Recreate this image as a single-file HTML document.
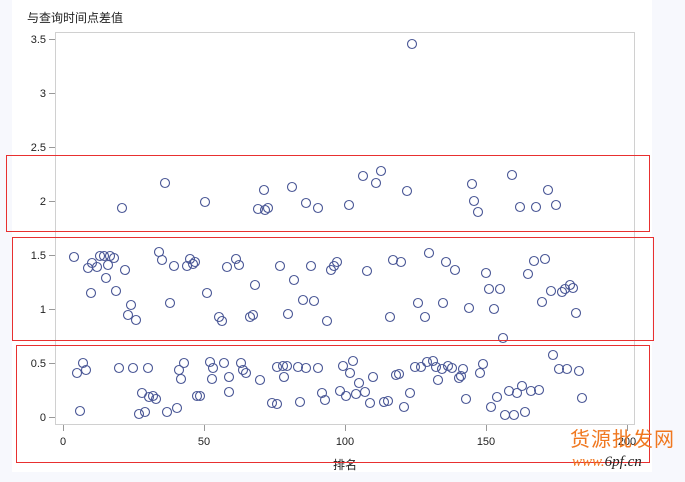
<!DOCTYPE html>
<html><head><meta charset="utf-8"><style>
html,body{margin:0;padding:0;background:#f7f8fd;}
svg{display:block;font-family:"Liberation Sans","Noto Sans CJK SC",sans-serif;}
</style></head><body>
<svg width="685" height="482" viewBox="0 0 685 482" xmlns="http://www.w3.org/2000/svg">
<rect x="12" y="0" width="640" height="472" fill="#fff"/>
<text x="27" y="22" font-size="12" fill="#222">与查询时间点差值</text>
<rect x="55.5" y="32.5" width="579" height="392" fill="none" stroke="#d0d0d0"/>
<g stroke="#999" stroke-width="1">
<line x1="49" y1="39.5" x2="55" y2="39.5"/><line x1="49" y1="93.5" x2="55" y2="93.5"/>
<line x1="49" y1="147.5" x2="55" y2="147.5"/><line x1="49" y1="201.5" x2="55" y2="201.5"/>
<line x1="49" y1="255.5" x2="55" y2="255.5"/><line x1="49" y1="309.5" x2="55" y2="309.5"/>
<line x1="49" y1="363.5" x2="55" y2="363.5"/><line x1="49" y1="417.5" x2="55" y2="417.5"/>
<line x1="63.5" y1="425" x2="63.5" y2="431"/><line x1="204.5" y1="425" x2="204.5" y2="431"/>
<line x1="345.5" y1="425" x2="345.5" y2="431"/><line x1="486.5" y1="425" x2="486.5" y2="431"/>
<line x1="627.5" y1="425" x2="627.5" y2="431"/>
</g>
<g font-size="11" fill="#222" text-anchor="end">
<text x="46" y="43">3.5</text><text x="46" y="97">3</text><text x="46" y="151">2.5</text>
<text x="46" y="205">2</text><text x="46" y="259">1.5</text><text x="46" y="313">1</text>
<text x="46" y="367">0.5</text><text x="46" y="421">0</text>
</g>
<g font-size="11" fill="#222" text-anchor="middle">
<text x="63" y="445">0</text><text x="204" y="445">50</text><text x="345" y="445">100</text>
<text x="486" y="445">150</text><text x="627" y="445">200</text>
<text x="345" y="469" font-size="12">排名</text>
</g>
<g fill="none" stroke="#4a5796" stroke-width="1.1">
<circle cx="412" cy="44" r="4.5"/><circle cx="165" cy="183" r="4.5"/><circle cx="122" cy="208" r="4.5"/><circle cx="205" cy="202" r="4.5"/><circle cx="258" cy="209" r="4.5"/><circle cx="265" cy="210" r="4.5"/><circle cx="268" cy="208" r="4.5"/><circle cx="264" cy="190" r="4.5"/><circle cx="292" cy="187" r="4.5"/><circle cx="306" cy="203" r="4.5"/><circle cx="318" cy="208" r="4.5"/><circle cx="349" cy="205" r="4.5"/><circle cx="363" cy="176" r="4.5"/><circle cx="376" cy="183" r="4.5"/><circle cx="381" cy="171" r="4.5"/><circle cx="407" cy="191" r="4.5"/><circle cx="472" cy="184" r="4.5"/><circle cx="474" cy="201" r="4.5"/><circle cx="478" cy="212" r="4.5"/><circle cx="512" cy="175" r="4.5"/><circle cx="520" cy="207" r="4.5"/><circle cx="536" cy="207" r="4.5"/><circle cx="548" cy="190" r="4.5"/><circle cx="556" cy="205" r="4.5"/>
<circle cx="74" cy="257" r="4.5"/><circle cx="88" cy="268" r="4.5"/><circle cx="92" cy="263" r="4.5"/><circle cx="97" cy="267" r="4.5"/><circle cx="100" cy="256" r="4.5"/><circle cx="104" cy="256" r="4.5"/><circle cx="108" cy="265" r="4.5"/><circle cx="106" cy="278" r="4.5"/><circle cx="110" cy="256" r="4.5"/><circle cx="114" cy="258" r="4.5"/><circle cx="91" cy="293" r="4.5"/><circle cx="116" cy="291" r="4.5"/><circle cx="125" cy="270" r="4.5"/><circle cx="128" cy="315" r="4.5"/><circle cx="131" cy="305" r="4.5"/><circle cx="136" cy="320" r="4.5"/><circle cx="159" cy="252" r="4.5"/><circle cx="162" cy="260" r="4.5"/><circle cx="170" cy="303" r="4.5"/><circle cx="174" cy="266" r="4.5"/><circle cx="187" cy="266" r="4.5"/><circle cx="190" cy="259" r="4.5"/><circle cx="193" cy="264" r="4.5"/><circle cx="195" cy="262" r="4.5"/><circle cx="207" cy="293" r="4.5"/><circle cx="219" cy="317" r="4.5"/><circle cx="222" cy="321" r="4.5"/><circle cx="227" cy="267" r="4.5"/><circle cx="236" cy="259" r="4.5"/><circle cx="239" cy="265" r="4.5"/><circle cx="250" cy="317" r="4.5"/><circle cx="253" cy="315" r="4.5"/><circle cx="255" cy="285" r="4.5"/><circle cx="280" cy="266" r="4.5"/><circle cx="294" cy="280" r="4.5"/><circle cx="288" cy="314" r="4.5"/><circle cx="303" cy="300" r="4.5"/><circle cx="311" cy="266" r="4.5"/><circle cx="314" cy="301" r="4.5"/><circle cx="327" cy="321" r="4.5"/><circle cx="331" cy="270" r="4.5"/><circle cx="334" cy="266" r="4.5"/><circle cx="337" cy="262" r="4.5"/><circle cx="367" cy="271" r="4.5"/><circle cx="390" cy="317" r="4.5"/><circle cx="393" cy="260" r="4.5"/><circle cx="401" cy="262" r="4.5"/><circle cx="418" cy="303" r="4.5"/><circle cx="425" cy="317" r="4.5"/><circle cx="429" cy="253" r="4.5"/><circle cx="446" cy="262" r="4.5"/><circle cx="455" cy="270" r="4.5"/><circle cx="443" cy="303" r="4.5"/><circle cx="469" cy="308" r="4.5"/><circle cx="486" cy="273" r="4.5"/><circle cx="489" cy="289" r="4.5"/><circle cx="494" cy="309" r="4.5"/><circle cx="500" cy="289" r="4.5"/><circle cx="503" cy="338" r="4.5"/><circle cx="528" cy="274" r="4.5"/><circle cx="534" cy="261" r="4.5"/><circle cx="542" cy="302" r="4.5"/><circle cx="545" cy="259" r="4.5"/><circle cx="551" cy="291" r="4.5"/><circle cx="562" cy="292" r="4.5"/><circle cx="565" cy="289" r="4.5"/><circle cx="570" cy="285" r="4.5"/><circle cx="573" cy="288" r="4.5"/><circle cx="576" cy="313" r="4.5"/>
<circle cx="77" cy="373" r="4.5"/><circle cx="80" cy="411" r="4.5"/><circle cx="83" cy="363" r="4.5"/><circle cx="86" cy="370" r="4.5"/><circle cx="119" cy="368" r="4.5"/><circle cx="133" cy="368" r="4.5"/><circle cx="148" cy="368" r="4.5"/><circle cx="142" cy="393" r="4.5"/><circle cx="139" cy="414" r="4.5"/><circle cx="145" cy="412" r="4.5"/><circle cx="149" cy="397" r="4.5"/><circle cx="153" cy="396" r="4.5"/><circle cx="156" cy="399" r="4.5"/><circle cx="167" cy="412" r="4.5"/><circle cx="177" cy="408" r="4.5"/><circle cx="179" cy="370" r="4.5"/><circle cx="181" cy="379" r="4.5"/><circle cx="184" cy="363" r="4.5"/><circle cx="197" cy="396" r="4.5"/><circle cx="200" cy="396" r="4.5"/><circle cx="210" cy="362" r="4.5"/><circle cx="213" cy="368" r="4.5"/><circle cx="212" cy="379" r="4.5"/><circle cx="224" cy="363" r="4.5"/><circle cx="229" cy="392" r="4.5"/><circle cx="229" cy="377" r="4.5"/><circle cx="241" cy="363" r="4.5"/><circle cx="243" cy="370" r="4.5"/><circle cx="246" cy="373" r="4.5"/><circle cx="260" cy="380" r="4.5"/><circle cx="272" cy="403" r="4.5"/><circle cx="277" cy="367" r="4.5"/><circle cx="277" cy="404" r="4.5"/><circle cx="283" cy="366" r="4.5"/><circle cx="284" cy="377" r="4.5"/><circle cx="287" cy="366" r="4.5"/><circle cx="298" cy="367" r="4.5"/><circle cx="300" cy="402" r="4.5"/><circle cx="306" cy="368" r="4.5"/><circle cx="318" cy="368" r="4.5"/><circle cx="322" cy="393" r="4.5"/><circle cx="325" cy="400" r="4.5"/><circle cx="340" cy="391" r="4.5"/><circle cx="343" cy="366" r="4.5"/><circle cx="346" cy="396" r="4.5"/><circle cx="350" cy="373" r="4.5"/><circle cx="353" cy="361" r="4.5"/><circle cx="356" cy="394" r="4.5"/><circle cx="359" cy="383" r="4.5"/><circle cx="365" cy="392" r="4.5"/><circle cx="370" cy="403" r="4.5"/><circle cx="373" cy="377" r="4.5"/><circle cx="384" cy="402" r="4.5"/><circle cx="388" cy="401" r="4.5"/><circle cx="396" cy="375" r="4.5"/><circle cx="399" cy="374" r="4.5"/><circle cx="404" cy="407" r="4.5"/><circle cx="410" cy="393" r="4.5"/><circle cx="415" cy="367" r="4.5"/><circle cx="421" cy="367" r="4.5"/><circle cx="427" cy="362" r="4.5"/><circle cx="433" cy="361" r="4.5"/><circle cx="436" cy="367" r="4.5"/><circle cx="438" cy="380" r="4.5"/><circle cx="442" cy="369" r="4.5"/><circle cx="448" cy="366" r="4.5"/><circle cx="452" cy="368" r="4.5"/><circle cx="459" cy="378" r="4.5"/><circle cx="461" cy="376" r="4.5"/><circle cx="463" cy="369" r="4.5"/><circle cx="466" cy="399" r="4.5"/><circle cx="480" cy="373" r="4.5"/><circle cx="483" cy="364" r="4.5"/><circle cx="491" cy="407" r="4.5"/><circle cx="497" cy="397" r="4.5"/><circle cx="505" cy="415" r="4.5"/><circle cx="509" cy="391" r="4.5"/><circle cx="514" cy="415" r="4.5"/><circle cx="517" cy="393" r="4.5"/><circle cx="522" cy="386" r="4.5"/><circle cx="525" cy="412" r="4.5"/><circle cx="531" cy="391" r="4.5"/><circle cx="539" cy="390" r="4.5"/><circle cx="553" cy="355" r="4.5"/><circle cx="559" cy="369" r="4.5"/><circle cx="567" cy="369" r="4.5"/><circle cx="579" cy="371" r="4.5"/><circle cx="582" cy="398" r="4.5"/>
</g>
<g fill="none" stroke="#e83030" stroke-width="1">
<rect x="6.5" y="155.5" width="643" height="76"/>
<rect x="12.5" y="237.5" width="641" height="103"/>
<rect x="16.5" y="345.5" width="633" height="117"/>
</g>
<text x="570" y="446" font-size="20" fill="#f07820" font-family="'Noto Sans CJK SC',sans-serif" letter-spacing="1">货源批发网</text>
<text x="572" y="466" font-size="15" fill="#f07820" font-family="'Liberation Serif',serif" font-style="italic">www.<tspan fill="#222">6pf.cn</tspan></text>
</svg>
</body></html>
